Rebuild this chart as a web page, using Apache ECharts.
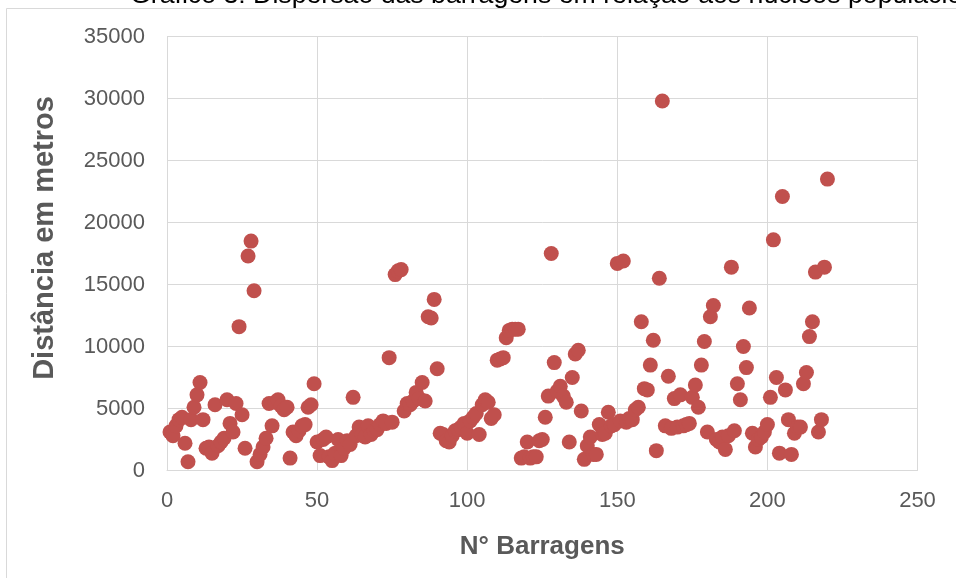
<!DOCTYPE html>
<html>
<head>
<meta charset="utf-8">
<script src="https://cdn.jsdelivr.net/npm/echarts@6/dist/echarts.min.js"></script>
<style>
  html, body { margin: 0; padding: 0; background: #ffffff; }
  #chart { width: 956px; height: 578px; }
</style>
</head>
<body>
<div id="chart"></div>
<script>
// Distance (m) from each dam to the nearest population centre, dams numbered 1..220
const distances = [
  3100, 2800, 3600, 4100, 4300, 2200, 700, 4100, 5100, 6100,
  7100, 4100, 1800, 1900, 1400, 5300, 2000, 2300, 2600, 5700,
  3800, 3100, 5400, 11600, 4500, 1800, 17300, 18500, 14500, 700,
  1300, 1900, 2600, 5400, 3600, 5500, 5700, 5200, 4900, 5100,
  1000, 3100, 2800, 3200, 3600, 3700, 5100, 5300, 7000, 2300,
  1200, 2500, 2700, 1100, 800, 1400, 2500, 1200, 1800, 2400,
  2100, 5900, 2800, 3500, 2900, 2700, 3600, 2900, 3200, 3300,
  3700, 4000, 3800, 9100, 3900, 15800, 16100, 16200, 4800, 5400,
  5300, 5600, 6300, 5800, 7100, 5600, 12400, 12300, 13800, 8200,
  3000, 2900, 2400, 2300, 2800, 3200, 3300, 3500, 3800, 3000,
  4000, 4300, 4600, 2900, 5300, 5700, 5500, 4200, 4500, 8900,
  9000, 9100, 10700, 11300, 11400, 11400, 11400, 1000, 1100, 2300,
  1000, 1100, 1100, 2400, 2500, 4300, 6000, 17500, 8700, 6400,
  6800, 6000, 5500, 2300, 7500, 9400, 9700, 4800, 900, 2000,
  2700, 1300, 1300, 3700, 2900, 3000, 4700, 3600, 3700, 16700,
  4000, 16900, 3900, 4200, 4100, 4900, 5100, 12000, 6600, 6500,
  8500, 10500, 1600, 15500, 29800, 3600, 7600, 3400, 5800, 3500,
  6100, 3600, 3700, 3800, 5900, 6900, 5100, 8500, 10400, 3100,
  12400, 13300, 2500, 2300, 2700, 1700, 2800, 16400, 3200, 7000,
  5700, 10000, 8300, 13100, 3000, 1900, 2500, 2700, 3100, 3700,
  5900, 18600, 7500, 1400, 22100, 6500, 4100, 1300, 3000, 3500,
  3500, 7000, 7900, 10800, 12000, 16000, 3100, 4100, 16400, 23500
];

const xTicks = { min: 0, max: 250, step: 50 };
const yTicks = { min: 0, max: 35000, step: 5000 };

const titleText = 'Gráfico 3: Dispersão das barragens em relação aos núcleos populacionais';
const xName = 'N° Barragens';
const yName = 'Distância em metros';

const points = distances.map((d, i) => [i + 1, d]);

const font = "'Liberation Sans', Arial, sans-serif";
const gridColor = '#d9d9d9';
const labelColor = '#595959';

const chart = echarts.init(document.getElementById('chart'), null, { renderer: 'canvas' });

chart.setOption({
  animation: false,
  backgroundColor: '#ffffff',
  grid: { left: 167, right: 38.5, top: 36.5, bottom: 107.5, containLabel: false },
  xAxis: {
    type: 'value',
    min: xTicks.min, max: xTicks.max, interval: xTicks.step,
    name: xName,
    nameLocation: 'middle',
    nameGap: 63,
    nameTextStyle: { fontFamily: font, fontSize: 26, fontWeight: 'bold', color: labelColor },
    axisLine: { show: true, lineStyle: { color: gridColor, width: 1 } },
    axisTick: { show: false },
    axisLabel: { fontFamily: font, fontSize: 22, color: labelColor, margin: 19 },
    splitLine: { show: true, lineStyle: { color: gridColor, width: 1 } }
  },
  yAxis: {
    type: 'value',
    min: yTicks.min, max: yTicks.max, interval: yTicks.step,
    axisLine: { show: true, lineStyle: { color: gridColor, width: 1 } },
    axisTick: { show: false },
    axisLabel: { fontFamily: font, fontSize: 22, color: labelColor, margin: 22,
                 formatter: v => String(v) },
    splitLine: { show: true, lineStyle: { color: gridColor, width: 1 } }
  },
  graphic: [
    // chart title; the chart frame sits over its lower part
    { type: 'text', silent: true, z: 0, x: 130, y: 9,
      style: { text: titleText, fontFamily: font, fontSize: 26.7, fill: '#000000',
               textAlign: 'left', textVerticalAlign: 'bottom' } },
    { type: 'rect', silent: true, z: 1, shape: { x: 7, y: 9, width: 949, height: 17 },
      style: { fill: '#ffffff' } },
    // frame edges of the chart area
    { type: 'line', silent: true, z: 2, shape: { x1: 6.5, y1: 8.5, x2: 956, y2: 8.5 },
      style: { stroke: gridColor, lineWidth: 1 } },
    { type: 'line', silent: true, z: 2, shape: { x1: 6.5, y1: 8.5, x2: 6.5, y2: 578 },
      style: { stroke: gridColor, lineWidth: 1 } },
    // vertical axis title
    { type: 'text', silent: true, z: 2, x: 45, y: 238, rotation: Math.PI / 2,
      style: { text: yName, fontFamily: font, fontSize: 29, fontWeight: 'bold', fill: labelColor,
               textAlign: 'center', textVerticalAlign: 'middle' } }
  ],
  series: [{
    type: 'scatter',
    data: points,
    symbol: 'circle',
    symbolSize: 15,
    itemStyle: { color: '#C0504D', opacity: 1 }
  }]
});
</script>
</body>
</html>
